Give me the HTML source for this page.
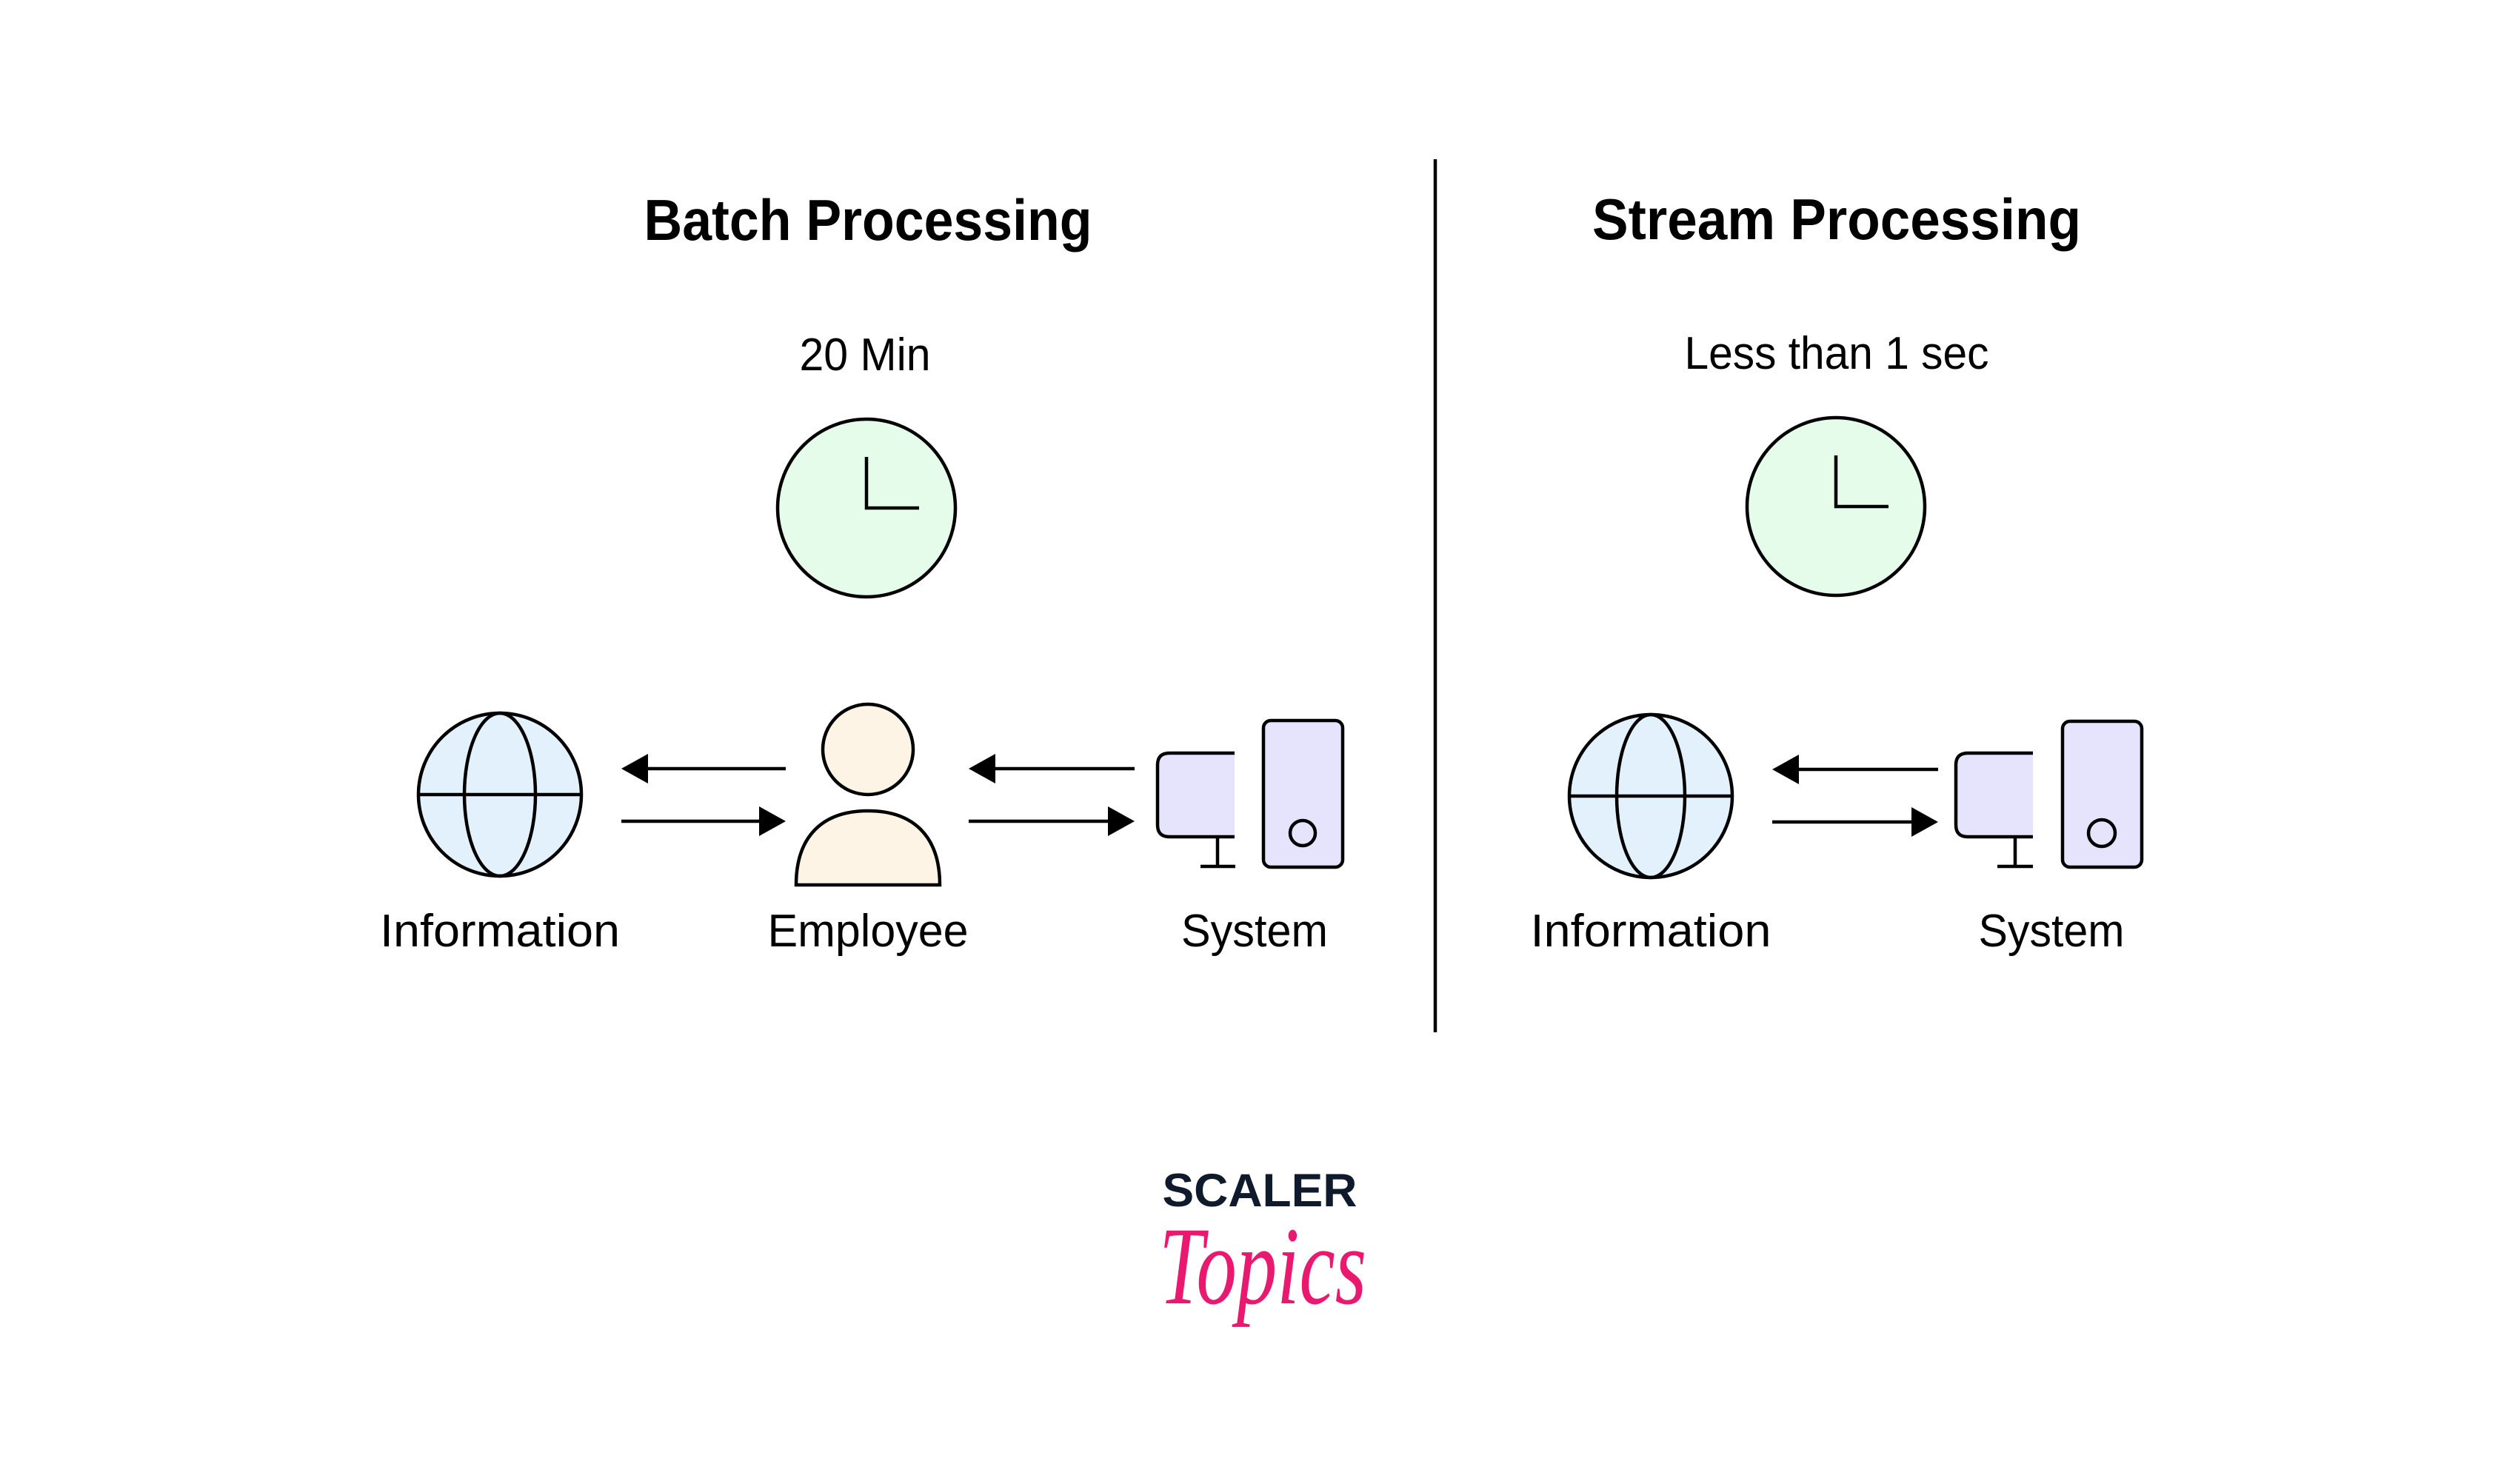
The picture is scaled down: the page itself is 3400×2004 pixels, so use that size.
<!DOCTYPE html>
<html><head><meta charset="utf-8"><style>
html,body{margin:0;padding:0;background:#fff;width:3400px;height:2004px;overflow:hidden}
svg{display:block}
text{font-family:"Liberation Sans",sans-serif;fill:#000}
</style></head><body>
<svg width="3400" height="2004" viewBox="0 0 3400 2004" xmlns="http://www.w3.org/2000/svg">
<rect width="3400" height="2004" fill="#fff"/>
<line x1="1938" y1="215" x2="1938" y2="1394" stroke="#000" stroke-width="4.5"/>

<text x="1172" y="324" text-anchor="middle" font-size="78" font-weight="bold" textLength="605" lengthAdjust="spacingAndGlyphs">Batch Processing</text>
<text x="2480" y="323" text-anchor="middle" font-size="78" font-weight="bold" textLength="660" lengthAdjust="spacingAndGlyphs">Stream Processing</text>
<text x="1168" y="500" text-anchor="middle" font-size="62" textLength="177" lengthAdjust="spacingAndGlyphs">20 Min</text>
<text x="2480" y="498" text-anchor="middle" font-size="62" textLength="411" lengthAdjust="spacingAndGlyphs">Less than 1 sec</text>

<g stroke="#000" stroke-width="4.5" fill="none">
<circle cx="1170" cy="686" r="120" fill="#e6fcea"/>
<polyline points="1170,617 1170,686 1241,686"/>
<circle cx="2479" cy="684" r="120" fill="#e6fcea"/>
<polyline points="2479,615 2479,684 2550,684"/>

<circle cx="675" cy="1073" r="110" fill="#e3f1fd"/>
<ellipse cx="675" cy="1073" rx="48" ry="110"/>
<line x1="565" y1="1073" x2="785" y2="1073"/>
<circle cx="2229" cy="1075" r="110" fill="#e3f1fd"/>
<ellipse cx="2229" cy="1075" rx="46" ry="110"/>
<line x1="2119" y1="1075" x2="2339" y2="1075"/>

<circle cx="1172" cy="1012" r="61" fill="#fdf4e6"/>
<path d="M1075,1195 C1075,1130 1110,1095 1172,1095 C1234,1095 1269,1130 1269,1195 Z" fill="#fdf4e6"/>

<path d="M1667,1017 H1579 Q1563,1017 1563,1033 V1114 Q1563,1130 1579,1130 H1667" fill="#e6e4fd"/>
<line x1="1644" y1="1130" x2="1644" y2="1170"/>
<line x1="1621" y1="1170" x2="1668" y2="1170"/>
<rect x="1706" y="973" width="107" height="198" rx="10" fill="#e6e4fd"/>
<circle cx="1759" cy="1125" r="17"/>
<path d="M2745,1017 H2657 Q2641,1017 2641,1033 V1114 Q2641,1130 2657,1130 H2745" fill="#e6e4fd"/>
<line x1="2721" y1="1130" x2="2721" y2="1170"/>
<line x1="2697" y1="1170" x2="2745" y2="1170"/>
<rect x="2785" y="974" width="107" height="197" rx="10" fill="#e6e4fd"/>
<circle cx="2838" cy="1125" r="18"/>

<line x1="1061" y1="1038" x2="870" y2="1038"/>
<line x1="839" y1="1109" x2="1030" y2="1109"/>
<line x1="1532" y1="1038" x2="1340" y2="1038"/>
<line x1="1308" y1="1109" x2="1500" y2="1109"/>
<line x1="2617" y1="1039" x2="2425" y2="1039"/>
<line x1="2393" y1="1110" x2="2585" y2="1110"/>
</g>
<g fill="#000">
<polygon points="839,1038 875,1018 875,1058"/>
<polygon points="1061,1109 1025,1089 1025,1129"/>
<polygon points="1308,1038 1344,1018 1344,1058"/>
<polygon points="1532,1109 1496,1089 1496,1129"/>
<polygon points="2393,1039 2429,1019 2429,1059"/>
<polygon points="2617,1110 2581,1090 2581,1130"/>
</g>

<text x="675" y="1278" text-anchor="middle" font-size="62" textLength="324" lengthAdjust="spacingAndGlyphs">Information</text>
<text x="1172" y="1278" text-anchor="middle" font-size="62" textLength="271" lengthAdjust="spacingAndGlyphs">Employee</text>
<text x="1694" y="1278" text-anchor="middle" font-size="62" textLength="198" lengthAdjust="spacingAndGlyphs">System</text>
<text x="2229" y="1278" text-anchor="middle" font-size="62" textLength="325" lengthAdjust="spacingAndGlyphs">Information</text>
<text x="2770" y="1278" text-anchor="middle" font-size="62" textLength="197" lengthAdjust="spacingAndGlyphs">System</text>

<text x="1701" y="1629" text-anchor="middle" font-size="63" font-weight="bold" style="fill:#0f1b2d" textLength="263" lengthAdjust="spacingAndGlyphs">SCALER</text>
<text x="1705" y="1760" text-anchor="middle" font-size="150" font-style="italic" style="fill:#e8196f;font-family:'Liberation Serif',serif" textLength="280" lengthAdjust="spacingAndGlyphs">Topics</text>
</svg>
</body></html>
